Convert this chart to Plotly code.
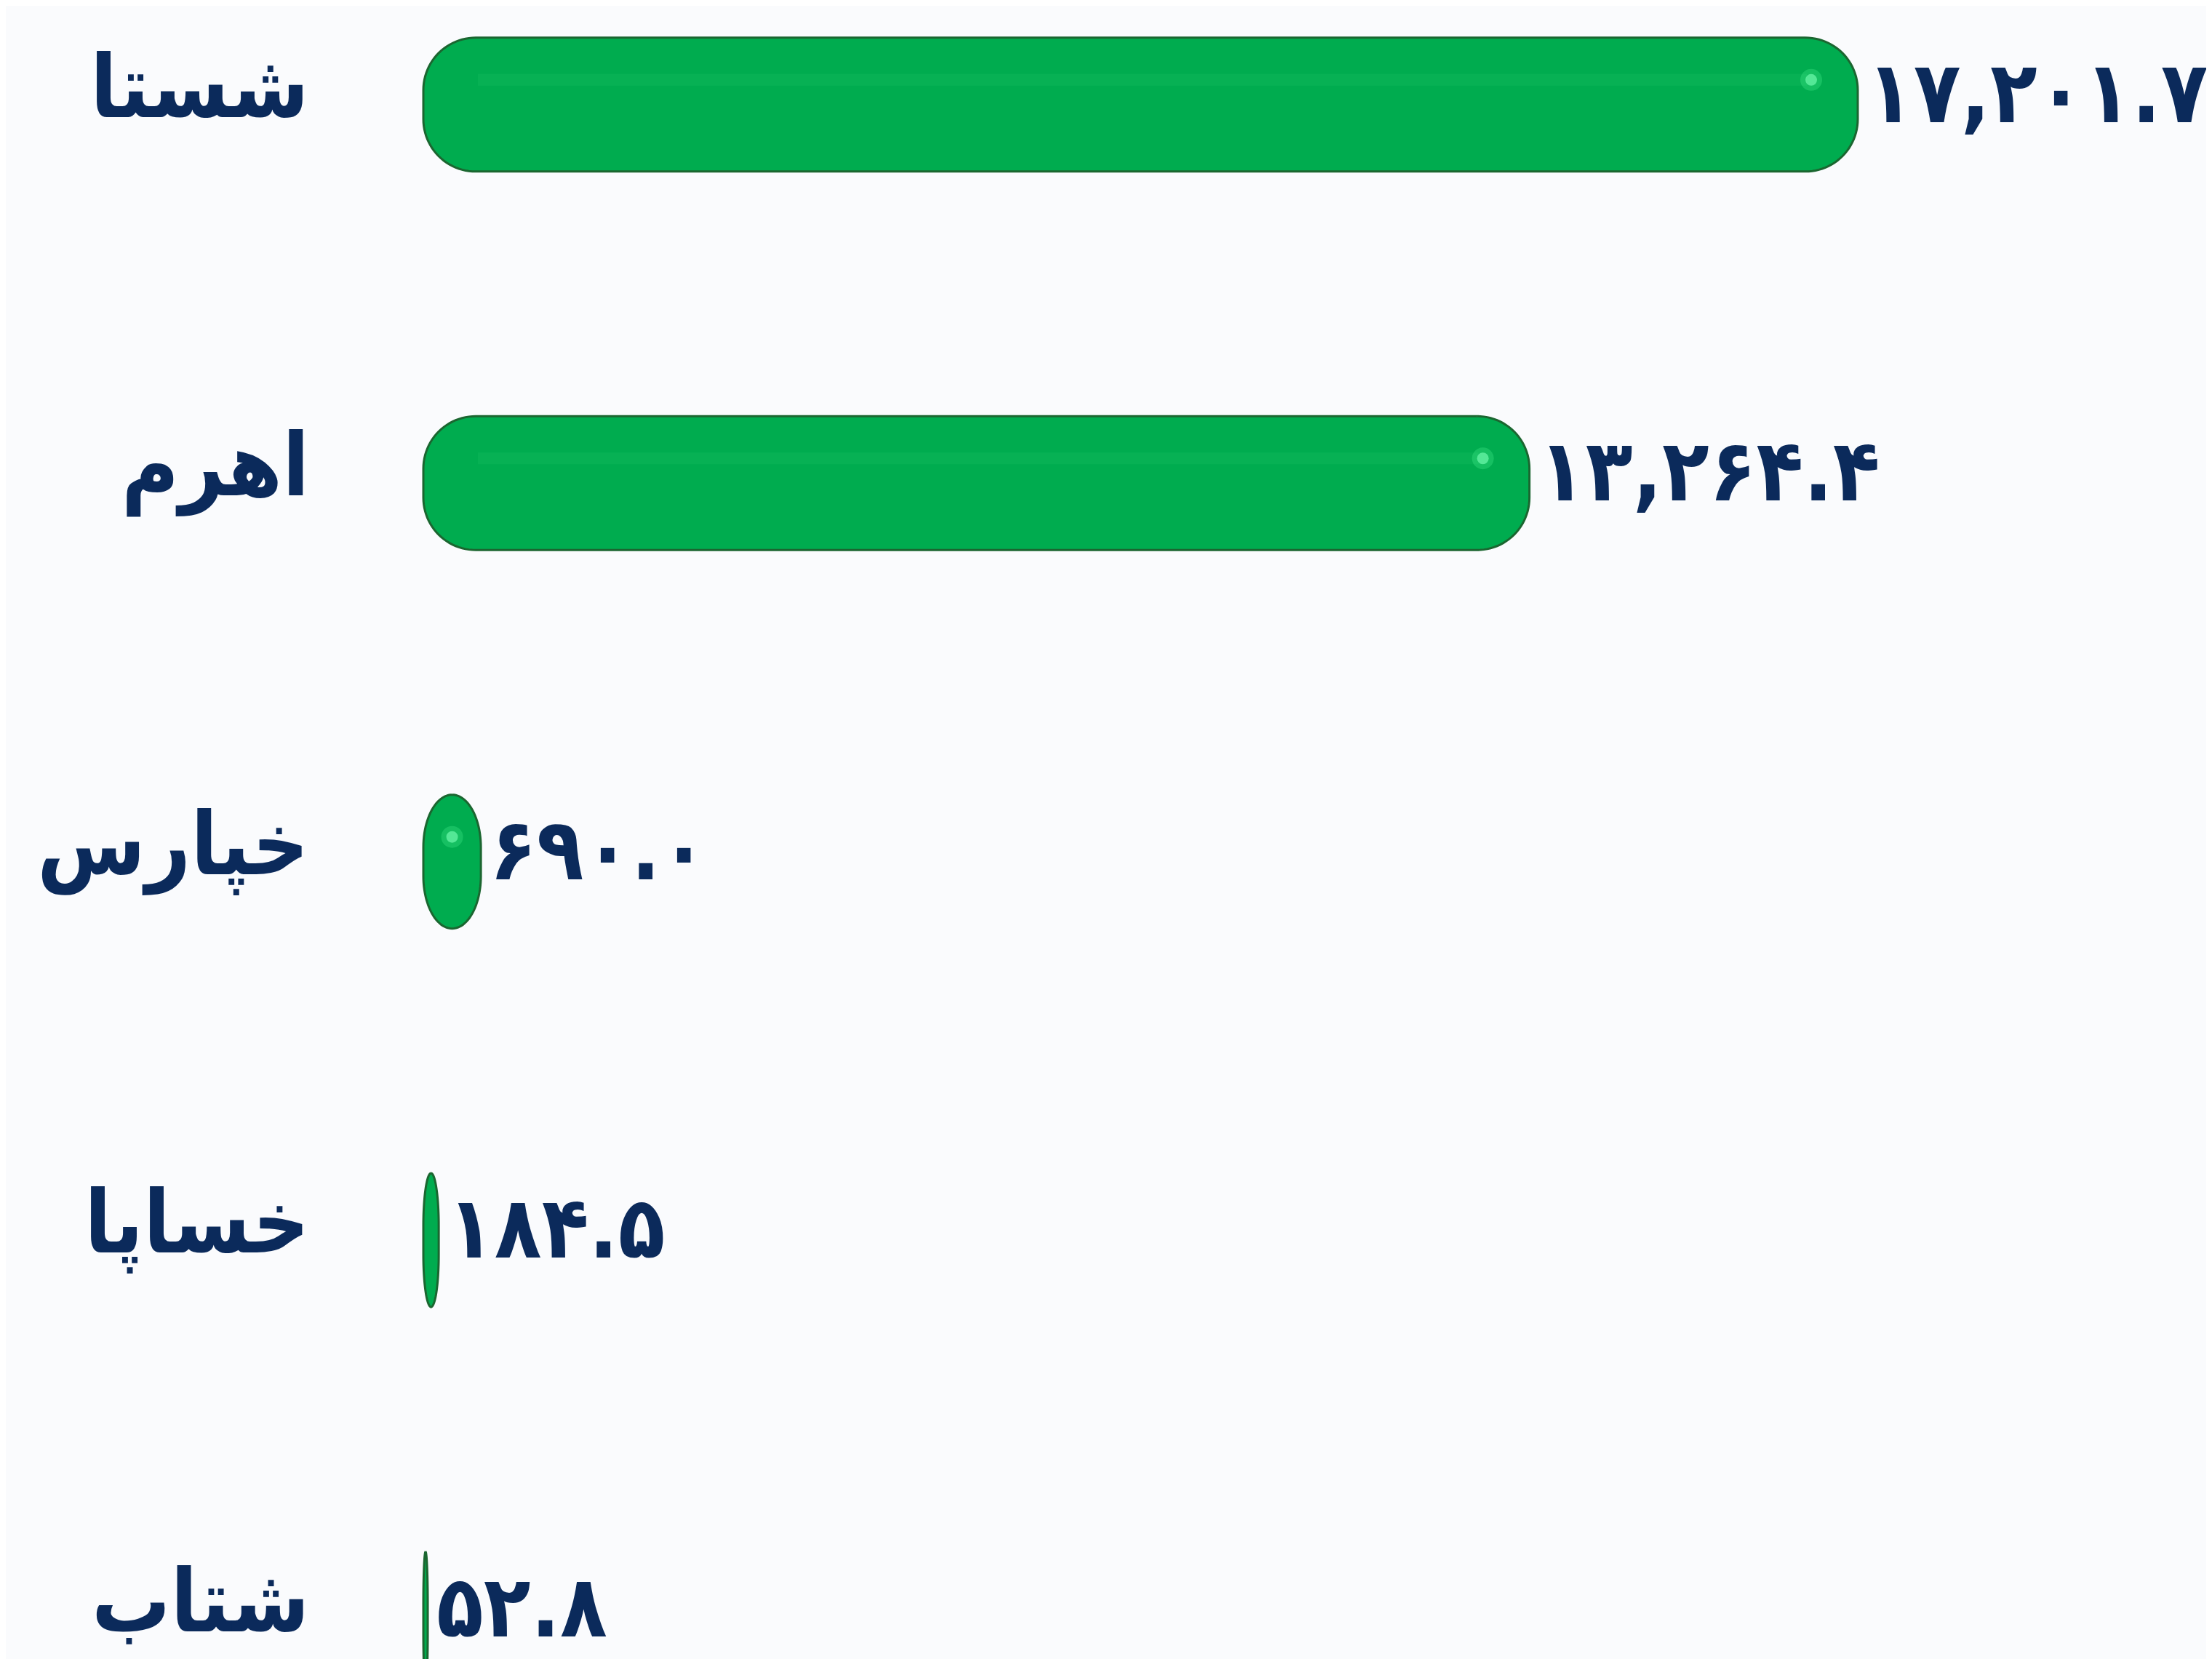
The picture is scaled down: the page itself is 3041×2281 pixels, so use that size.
import math
import plotly.graph_objects as go

categories = ["شستا", "اهرم", "خپارس", "خساپا", "شتاب"]
values = [17201.7, 13264.4, 690.0, 184.5, 52.8]

def fa_digits(s):
    return s.translate(str.maketrans("0123456789", "۰۱۲۳۴۵۶۷۸۹"))

value_text = [fa_digits(f"{v:,.1f}") for v in values]

NAVY = "#0B2A5B"
GREEN = "#00AC4F"
EDGE = "#1B6630"
FONT = "DejaVu Sans Condensed, DejaVu Sans"

W, H = 3041, 2281
ML, MR = 560, 20
ZERO_PX = 574                 # pixel where value 0 sits
px_x = 0.11464                # pixels per value unit
XMIN = -(ZERO_PX - ML) / px_x
XMAX = (W - MR - ZERO_PX) / px_x
YRANGE = [4.122, -0.261]
px_y = H / (YRANGE[0] - YRANGE[1])    # pixels per category step
BAR_HALF = 92 / px_y                  # half bar thickness in category units
CORNER_X, CORNER_Y = 72, 72           # corner radii in px


def pill(x0, x1, yc):
    L = (x1 - x0) * px_x
    rpx = min(CORNER_X, L / 2)
    rx = rpx / px_x
    ry = CORNER_Y / px_y
    top, bot = yc - BAR_HALF, yc + BAR_HALF
    n = 24
    xs, ys = [], []
    corners = [
        (x1 - rx, top + ry, -90, 0),
        (x1 - rx, bot - ry, 0, 90),
        (x0 + rx, bot - ry, 90, 180),
        (x0 + rx, top + ry, 180, 270),
    ]
    for cx, cy, a0, a1 in corners:
        for k in range(n + 1):
            a = math.radians(a0 + (a1 - a0) * k / n)
            xs.append(cx + rx * math.cos(a))
            ys.append(cy + ry * math.sin(a))
    xs.append(xs[0]); ys.append(ys[0])
    return xs, ys


fig = go.Figure()

for i, v in enumerate(values):
    xs, ys = pill(0, v, i)
    fig.add_trace(go.Scatter(
        x=xs, y=ys, mode="lines", fill="toself",
        fillcolor=GREEN, line=dict(color=EDGE, width=3, simplify=False),
        hoverinfo="skip", showlegend=False,
    ))
    L = v * px_x
    hy = i - 34 / px_y
    if L > 2 * CORNER_X:
        fig.add_trace(go.Scatter(
            x=[75 / px_x, v - 70 / px_x], y=[hy, hy], mode="lines",
            line=dict(color="rgba(40,200,110,0.18)", width=16),
            hoverinfo="skip", showlegend=False,
        ))
    if L > 40:
        sx = max(v / 2, v - 64 / px_x)
        fig.add_trace(go.Scatter(
            x=[sx, sx], y=[hy, hy], mode="markers",
            marker=dict(size=[30, 16], color=["rgba(90,255,160,0.35)", "rgba(120,255,180,0.9)"],
                        line=dict(width=0)),
            hoverinfo="skip", showlegend=False,
        ))

for i, (v, t) in enumerate(zip(values, value_text)):
    fig.add_annotation(
        x=v, y=i, text=t, xanchor="left", yanchor="middle",
        xshift=10, yshift=17, showarrow=False,
        font=dict(family=FONT, size=118, color=NAVY, weight="bold"),
    )

for i, c in enumerate(categories):
    fig.add_annotation(
        x=0, y=i, xref="x", text=c, xanchor="right", yanchor="middle",
        xshift=-155, yshift=24, showarrow=False,
        font=dict(family=FONT, size=120, color=NAVY, weight="bold"),
    )

fig.update_layout(
    width=W, height=H,
    margin=dict(l=ML, r=MR, t=0, b=0),
    paper_bgcolor="#FAFBFD",
    plot_bgcolor="rgba(0,0,0,0)",
    showlegend=False,
    xaxis=dict(range=[XMIN, XMAX], visible=False, showgrid=False, zeroline=False),
    yaxis=dict(range=YRANGE, visible=False, showgrid=False, zeroline=False),
)

fig.write_html("out.html")
